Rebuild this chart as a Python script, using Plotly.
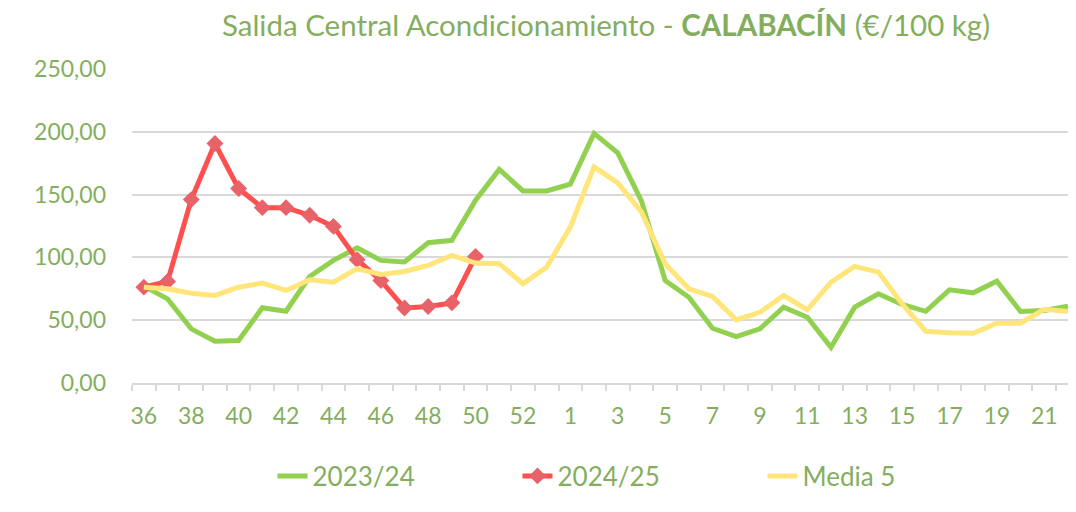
import plotly.graph_objects as go

weeks = [str(w) for w in range(36, 54)] + [str(w) for w in range(1, 23)]

s2023_24 = [77.1, 67.0, 43.1, 33.2, 33.8, 59.9, 57.1, 84.8, 97.6, 107.7,
            97.6, 96.3, 111.7, 113.6, 145.5, 170.0, 152.9, 152.9, 158.3, 198.7,
            183.2, 145.0, 81.6, 68.3, 43.6, 37.0, 43.1, 60.4, 52.4, 28.4,
            60.4, 71.0, 62.5, 57.1, 74.2, 71.8, 81.1, 56.9, 57.7, 61.1]

s2024_25 = [76.3, 80.8, 146.0, 190.7, 154.8, 139.6, 139.6, 133.5, 124.7, 98.2,
            81.6, 59.7, 60.9, 63.8, 100.8]

media5 = [76.3, 75.0, 71.5, 69.7, 76.3, 79.5, 73.7, 82.2, 80.3, 91.0,
          86.4, 88.8, 93.6, 101.6, 95.5, 95.0, 79.0, 92.3, 124.2, 172.1,
          159.3, 136.2, 95.0, 75.0, 68.9, 50.3, 56.3, 69.7, 58.3, 80.3,
          92.8, 88.3, 63.0, 41.2, 40.1, 39.6, 47.6, 47.6, 58.7, 56.9]

idx = list(range(len(weeks)))
tick_idx = idx[::2]
tick_text = weeks[::2]

TXT = "#84AE5E"
GRID = "#D9D9D9"
FONT = "Lato"
W, H = 1068, 504  # page body has an 8px margin

fig = go.Figure()
fig.add_trace(go.Scatter(x=idx, y=s2023_24, name="2023/24", mode="lines",
                         line=dict(color="#92D050", width=5)))
fig.add_trace(go.Scatter(x=idx[:len(s2024_25)], y=s2024_25, name="2024/25", mode="lines+markers",
                         line=dict(color="#FF5050", width=5),
                         marker=dict(symbol="diamond", size=13, color="#E8626A")))
fig.add_trace(go.Scatter(x=idx, y=media5, name="Media 5", mode="lines",
                         line=dict(color="#FFE57A", width=5)))

fig.update_layout(
    width=W, height=H,
    margin=dict(l=124, r=0, t=61, b=129, autoexpand=False),
    paper_bgcolor="white", plot_bgcolor="white",
    separators=",.",
    font=dict(family=FONT, color=TXT, size=23),
    title=dict(text="Salida Central Acondicionamiento - <b>CALABACÍN</b> (€/100 kg)",
               x=598/W, xanchor="center", y=1 - 18/H, yanchor="middle",
               font=dict(family=FONT, size=29.5, color=TXT)),
    legend=dict(orientation="h", xref="container", yref="container",
                x=632/W, xanchor="center", y=36/H, yanchor="middle",
                font=dict(family=FONT, size=26, color=TXT),
                entrywidth=200, traceorder="normal"),
    showlegend=True,
)
fig.update_xaxes(
    range=[-0.5, 39.34], tickmode="array", tickvals=tick_idx, ticktext=tick_text,
    showgrid=False, zeroline=False, showline=True, linecolor=GRID, linewidth=1.5,
    ticks="outside", ticklen=12, tickcolor="rgba(0,0,0,0)",
    tickfont=dict(size=23, color=TXT), automargin=False,
    minor=dict(ticks="outside", tickmode="linear", tick0=-0.5, dtick=1,
               ticklen=6, tickcolor=GRID, tickwidth=1.5, showgrid=False),
)
fig.update_yaxes(
    range=[0, 250], dtick=50, tickformat=".2f", showgrid=True, gridcolor=GRID,
    gridwidth=1.5, zeroline=False, showline=False, ticks="", automargin=False,
    tickfont=dict(size=23, color=TXT), ticklabelstandoff=25,
)

fig.write_html("out.html")
